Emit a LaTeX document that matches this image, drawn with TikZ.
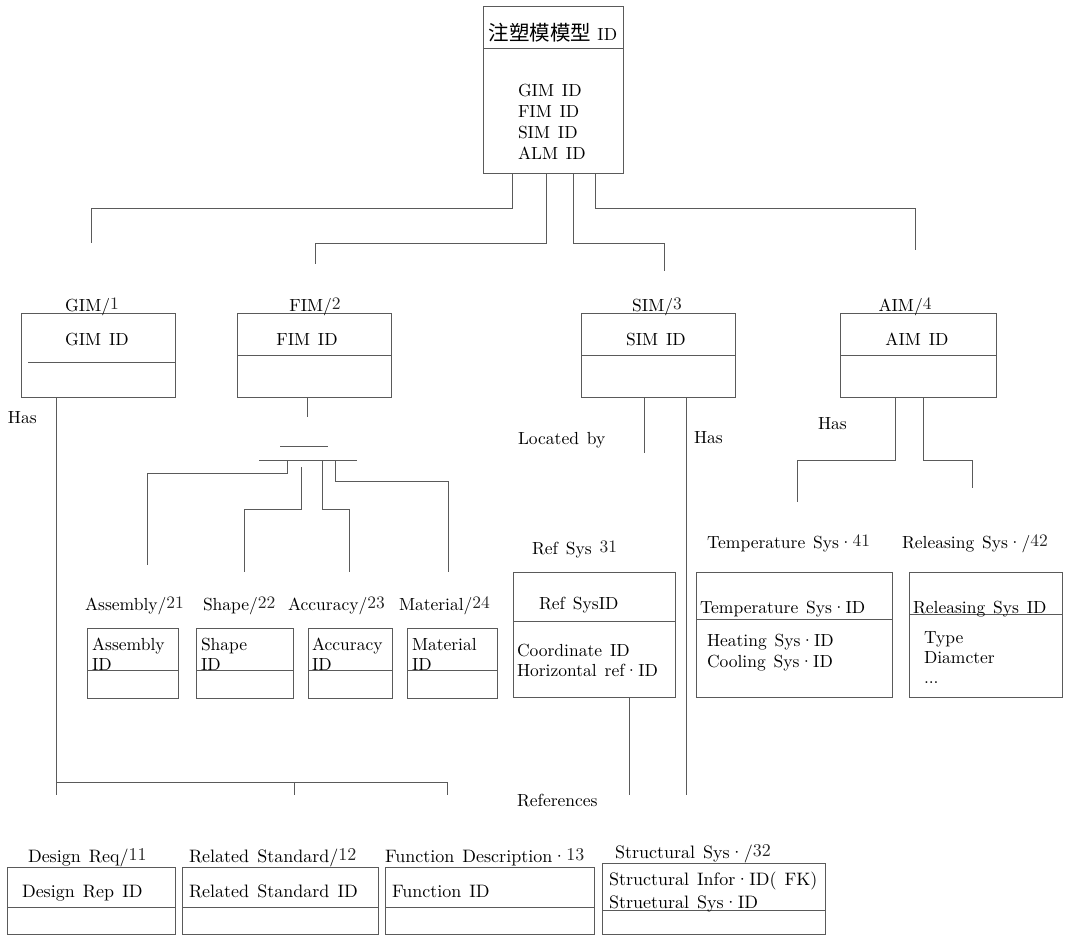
\documentclass[tikz,border=0pt]{standalone}
\usepackage{fontspec}
\setmainfont{lmroman10-regular.otf}
\newfontfamily\cjkfont{Noto Sans CJK SC}
\definecolor{lc}{HTML}{5A5A5A}
\newcommand\mainsz{\fontsize{17.5}{21}\selectfont\spaceskip=0.45em plus 0.1em\relax}
\newcommand\botsz{\fontsize{18}{22}\selectfont\spaceskip=0.45em plus 0.1em\relax}
\newcommand\mydg[1]{\raisebox{1.8pt}{\color{black!85}#1}}
\begin{document}
\begin{tikzpicture}[x=1pt,y=-1pt]
\tikzset{
  box/.style={draw=lc, line width=0.8pt, inner sep=0pt, outer sep=0pt, anchor=north west},
  conn/.style={draw=lc, line width=0.8pt},
  txt/.style={inner sep=0pt, outer sep=0pt, anchor=base west, font=\mainsz},
  ctxt/.style={txt, anchor=base},
  btxt/.style={txt, font=\botsz},
}
\useasboundingbox (0,0) rectangle (1071,935);

% ---------- top box ----------
\node[box, minimum width=140, minimum height=167] (top) at (483,6) {};
\draw[conn] (top.west |- 0,48) -- (top.east |- 0,48);
\node[ctxt] (toptitle) at (553,40) {{\cjkfont\fontsize{20.5}{24}\selectfont 注塑模模型}\hspace{0.35em}ID};
\node[txt] (tf1) at (518,96) {GIM ID};
\node[txt] (tf2) at (518,117) {FIM ID};
\node[txt] (tf3) at (518,138) {SIM ID};
\node[txt] (tf4) at (518,159) {ALM ID};

% ---------- level 2 boxes ----------
\node[box, minimum width=154, minimum height=84] (gim) at (21,313) {};
\draw[conn] (28,362) -- (gim.east |- 0,362);
\node[ctxt] (gimlab) at (92,311) {GIM/\mydg{1}};
\node[ctxt] (gimid) at (97,345) {GIM ID};

\node[box, minimum width=154, minimum height=84] (fim) at (237,313) {};
\draw[conn] (fim.west |- 0,355) -- (fim.east |- 0,355);
\node[ctxt] (fimlab) at (315,311) {FIM/\mydg{2}};
\node[ctxt] (fimid) at (307,345) {FIM ID};

\node[box, minimum width=154, minimum height=84] (sim) at (581,313) {};
\draw[conn] (sim.west |- 0,355) -- (sim.east |- 0,355);
\node[ctxt] (simlab) at (657,311) {SIM/\mydg{3}};
\node[ctxt] (simid) at (656,345) {SIM ID};

\node[box, minimum width=156, minimum height=84] (aim) at (840,313) {};
\draw[conn] (aim.west |- 0,355) -- (aim.east |- 0,355);
\node[ctxt] (aimlab) at (905,311) {AIM/\mydg{4}};
\node[ctxt] (aimid) at (917,345) {AIM ID};

% ---------- top connectors ----------
\coordinate (e1) at (91,243);
\coordinate (e2) at (315,264);
\coordinate (e3) at (664,271);
\coordinate (e4) at (915,250);
\draw[conn] (top.south -| 512,0) -- (512,208) -| (e1);
\draw[conn] (top.south -| 546,0) -- (546,243) -| (e2);
\draw[conn] (top.south -| 573,0) -- (573,243) -| (e3);
\draw[conn] (top.south -| 595,0) -- (595,208) -| (e4);

% ---------- GIM branch ----------
\node[txt] (gimhas) at (8,423) {Has};
\coordinate (g0) at (56,795);
\draw[conn] (gim.south -| g0) -- (g0);
\coordinate (gb2) at (294,795);
\coordinate (gb3) at (447,795);
\draw[conn] (56,782) -| (gb3);
\draw[conn] (294,782) -- (gb2);

% ---------- FIM branch ----------
\coordinate (f0) at (307,417);
\draw[conn] (fim.south -| f0) -- (f0);
\coordinate (bar1l) at (280,446);
\coordinate (bar1r) at (328,446);
\coordinate (bar2l) at (259,460);
\coordinate (bar2r) at (357,460);
\draw[conn] (bar1l) -- (bar1r);
\draw[conn] (bar2l) -- (bar2r);
\coordinate (fe1) at (147,565);
\coordinate (fe2) at (244,572);
\coordinate (fe3) at (349,572);
\coordinate (fe4) at (448,572);
\draw[conn] (bar2l -| 287,0) -- (287,473) -| (fe1);
\draw[conn] (301,467) -- (301,509) -| (fe2);
\draw[conn] (bar2l -| 322,0) -- (322,509) -| (fe3);
\draw[conn] (bar2l -| 335,0) -- (335,481) -| (fe4);

\node[txt] (asmlab) at (85,610) {Assembly/\mydg{21}};
\node[txt] (shplab) at (203,610) {Shape/\mydg{22}};
\node[txt] (acclab) at (288,610) {Accuracy/\mydg{23}};
\node[txt] (matlab) at (399,610) {Material/\mydg{24}};

\node[box, minimum width=91, minimum height=70] (asm) at (87,628) {};
\node[box, minimum width=97, minimum height=70] (shp) at (196,628) {};
\node[box, minimum width=84, minimum height=70] (acc) at (308,628) {};
\node[box, minimum width=90, minimum height=70] (mat) at (407,628) {};
\foreach \b in {asm,shp,acc,mat}{\draw[conn] (\b.west |- 0,670) -- (\b.east |- 0,670);}
\node[txt] (asmt1) at (92,650) {Assembly};
\node[txt] (asmt2) at (92,670) {ID};
\node[txt] (shpt1) at (201,650) {Shape};
\node[txt] (shpt2) at (201,670) {ID};
\node[txt] (acct1) at (312,650) {Accuracy};
\node[txt] (acct2) at (312,670) {ID};
\node[txt] (matt1) at (412,650) {Material};
\node[txt] (matt2) at (412,670) {ID};

% ---------- SIM branch ----------
\coordinate (s1) at (644,453);
\coordinate (s2) at (686,795);
\draw[conn] (sim.south -| s1) -- (s1);
\draw[conn] (sim.south -| s2) -- (s2);
\node[txt] (locby) at (518,444) {Located by};
\node[txt] (simhas) at (694,443) {Has};

\node[txt] (reflab) at (532,554) {Ref Sys \mydg{31}};
\node[box, minimum width=162, minimum height=125] (ref) at (513,572) {};
\draw[conn] (ref.west |- 0,621) -- (ref.east |- 0,621);
\node[txt] (refid) at (539,609) {Ref SysID};
\node[txt] (reff1) at (517,656) {Coordinate ID};
\node[txt] (reff2) at (517,676) {Horizontal ref·ID};
\coordinate (r1) at (629,795);
\draw[conn] (ref.south -| r1) -- (r1);
\node[txt] (refs) at (517,806) {References};

% ---------- AIM branch ----------
\coordinate (a1) at (797,502);
\coordinate (a2) at (972,488);
\draw[conn] (aim.south -| 895,0) -- (895,460) -| (a1);
\draw[conn] (aim.south -| 923,0) -- (923,460) -| (a2);
\node[txt] (aimhas) at (818,429) {Has};

\node[txt] (templab) at (707,548) {Temperature Sys·\mydg{41}};
\node[box, minimum width=196, minimum height=125] (temp) at (696,572) {};
\draw[conn] (temp.west |- 0,619) -- (temp.east |- 0,619);
\node[txt] (tempid) at (700,613) {Temperature Sys·ID};
\node[txt] (tempf1) at (707,646) {Heating Sys·ID};
\node[txt] (tempf2) at (707,667) {Cooling Sys·ID};

\node[txt] (rellab) at (902,548) {Releasing Sys·/\mydg{42}};
\node[box, minimum width=153, minimum height=125] (rel) at (909,572) {};
\draw[conn] (rel.west |- 0,614) -- (rel.east |- 0,614);
\node[txt] (relid) at (913,613) {Releasing Sys ID};
\node[txt] (relf1) at (924,643) {Type};
\node[txt] (relf2) at (924,663) {Diamcter};
\node[txt] (relf3) at (924,683) {...};

% ---------- bottom row ----------
\node[btxt] (dreqlab) at (28,862) {Design Req/\mydg{11}};
\node[btxt] (rstdlab) at (189,862) {Related Standard/\mydg{12}};
\node[btxt] (fdeslab) at (385,862) {Function Description·\mydg{13}};
\node[btxt] (ssyslab) at (615,858) {Structural Sys·/\mydg{32}};

\node[box, minimum width=168, minimum height=67.5] (dreq) at (7,867) {};
\node[box, minimum width=196, minimum height=67.5] (rstd) at (182,867) {};
\node[box, minimum width=209, minimum height=67.5] (fdes) at (385,867) {};
\node[box, minimum width=223, minimum height=71.5] (ssys) at (602,863) {};
\foreach \b in {dreq,rstd,fdes}{\draw[conn] (\b.west |- 0,907) -- (\b.east |- 0,907);}
\draw[conn] (ssys.west |- 0,910) -- (ssys.east |- 0,910);
\node[btxt] (dreqid) at (22,897) {Design Rep ID};
\node[btxt] (rstdid) at (189,897) {Related Standard ID};
\node[btxt] (fdesid) at (392,897) {Function ID};
\node[btxt] (ssysf1) at (609,885) {Structural Infor·ID( FK)};
\node[btxt] (ssysf2) at (609,908) {Struetural Sys·ID};
\end{tikzpicture}
\end{document}
